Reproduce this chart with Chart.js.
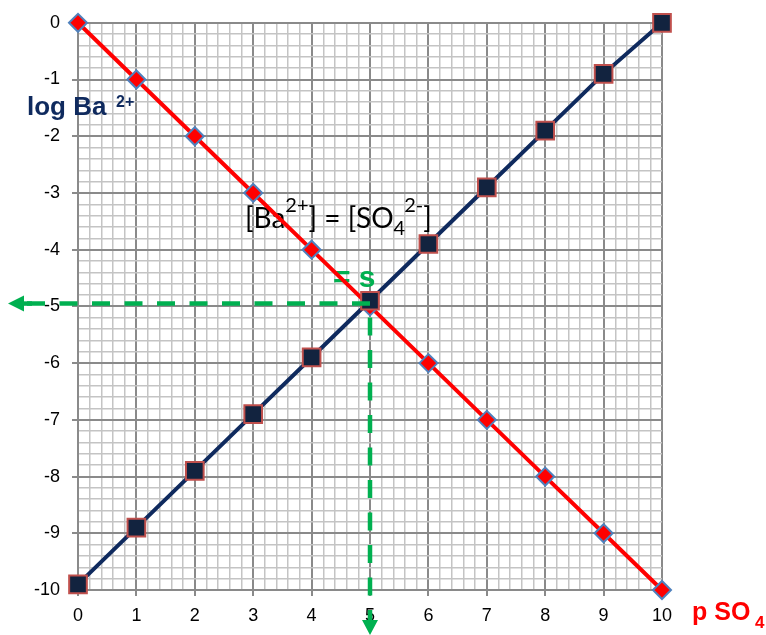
<!DOCTYPE html>
<html>
<head>
<meta charset="utf-8">
<script src="https://cdn.jsdelivr.net/npm/chart.js@4"></script>
<style>
  html, body { margin: 0; padding: 0; background: #fff; }
  #wrap { width: 766px; height: 635px; }
</style>
</head>
<body>
<div id="wrap"><canvas id="c"></canvas></div>
<script>
// values
const pSO4 = [0, 1, 2, 3, 4, 5, 6, 7, 8, 9, 10];
const logSO4 = [0, -1, -2, -3, -4, -5, -6, -7, -8, -9, -10];
const logBa = [-9.9, -8.9, -7.9, -6.9, -5.9, -4.9, -3.9, -2.9, -1.9, -0.9, 0];
const solubility = { x: 5, y: -4.95 };

const GREEN = '#00b050';
const NAVY = '#0f2a5e';

function isMajor(v) { return Math.abs(v - Math.round(v)) < 1e-6; }

// labels and the green "s" guide arrows
const notes = {
  id: 'notes',
  beforeDatasetsDraw(chart) {
    const ctx = chart.ctx;
    ctx.save();
    ctx.fillStyle = '#000';
    ctx.textBaseline = 'alphabetic';
    let x = 245;
    const big = '28px Lato', small = '20px Lato';
    const part = (t, f, y) => { ctx.font = f; ctx.fillText(t, x, y); x += ctx.measureText(t).width; };
    part('[Ba', big, 228);
    part('2+', small, 212);
    part('] = [SO', big, 228);
    part('4', small, 235);
    x -= 1;
    part('2-', small, 212);
    part(']', big, 228);
    // the red line runs over "= s"
    ctx.fillStyle = GREEN;
    ctx.font = 'bold 30px "Liberation Sans"';
    ctx.fillText('= s', 333, 287);
    ctx.restore();
  },
  afterDatasetsDraw(chart) {
    const ctx = chart.ctx;
    const sx = chart.scales.x.getPixelForValue(solubility.x);
    const sy = chart.scales.y.getPixelForValue(solubility.y);
    ctx.save();
    ctx.strokeStyle = GREEN;
    ctx.fillStyle = GREEN;
    ctx.lineWidth = 4.5;
    ctx.setLineDash([18, 14.5]);
    ctx.beginPath();
    ctx.moveTo(27, sy); ctx.lineTo(sx, sy);
    ctx.stroke();
    ctx.beginPath();
    ctx.moveTo(sx, sy + 14); ctx.lineTo(sx, 622);
    ctx.stroke();
    ctx.setLineDash([]);
    ctx.beginPath();
    ctx.moveTo(22, sy); ctx.lineTo(32, sy);
    ctx.stroke();
    // arrow heads
    ctx.beginPath();
    ctx.moveTo(8, sy); ctx.lineTo(24, sy - 8); ctx.lineTo(24, sy + 8); ctx.closePath();
    ctx.fill();
    ctx.beginPath();
    ctx.moveTo(sx, 635); ctx.lineTo(sx - 8, 620); ctx.lineTo(sx + 8, 620); ctx.closePath();
    ctx.fill();
    ctx.restore();
  },
  afterDraw(chart) {
    const ctx = chart.ctx;
    ctx.save();
    ctx.fillStyle = NAVY;
    ctx.font = 'bold 26px "Liberation Sans"';
    ctx.fillText('log Ba', 27, 115);
    ctx.font = 'bold 16px "Liberation Sans"';
    ctx.fillText('2+', 116, 107);
    ctx.fillStyle = '#ff0000';
    ctx.font = 'bold 25px "Liberation Sans"';
    ctx.fillText('p SO', 692, 620);
    ctx.font = 'bold 17px "Liberation Sans"';
    ctx.fillText('4', 755, 628);
    ctx.restore();
  }
};

new Chart(document.getElementById('c'), {
  type: 'scatter',
  data: {
    datasets: [
      {
        label: 'SO4',
        data: pSO4.map((p, i) => ({ x: p, y: logSO4[i] })),
        showLine: true,
        borderColor: '#ff0000',
        borderWidth: 4,
        pointStyle: 'rectRot',
        pointRadius: 9,
        pointHoverRadius: 9,
        pointBackgroundColor: '#ff0000',
        pointBorderColor: '#4f81bd',
        pointBorderWidth: 2,
        clip: false,
        order: 1
      },
      {
        label: 'Ba',
        data: pSO4.map((p, i) => ({ x: p, y: logBa[i] })),
        showLine: true,
        borderColor: NAVY,
        borderWidth: 4,
        pointStyle: 'rect',
        pointRadius: 12.5,
        pointHoverRadius: 12.5,
        pointBackgroundColor: '#12233f',
        pointBorderColor: '#c0504d',
        pointBorderWidth: 2,
        clip: false,
        order: 0
      }
    ]
  },
  options: {
    responsive: true,
    maintainAspectRatio: false,
    animation: false,
    events: [],
    layout: { padding: { top: 19, right: 104, left: 0, bottom: 0 } },
    plugins: { legend: { display: false }, tooltip: { enabled: false } },
    scales: {
      x: {
        type: 'linear',
        min: 0, max: 10,
        afterFit(s) { s.height = 45; },
        border: { color: '#8a8a8a', width: 2 },
        grid: {
          color: c => isMajor(c.tick.value) ? '#8a8a8a' : '#c4c4c4',
          lineWidth: c => isMajor(c.tick.value) ? 2 : 1.5,
          tickColor: c => isMajor(c.tick.value) ? '#8a8a8a' : 'rgba(0,0,0,0)',
          tickLength: 6
        },
        ticks: {
          stepSize: 0.2,
          autoSkip: false,
          maxRotation: 0,
          padding: 9,
          color: '#000',
          font: { family: '"Liberation Sans"', size: 18 },
          callback: v => isMajor(v) ? String(Math.round(v)) : ''
        }
      },
      y: {
        type: 'linear',
        min: -10, max: 0,
        afterFit(s) { s.width = 78; },
        border: { color: '#8a8a8a', width: 2 },
        grid: {
          color: c => isMajor(c.tick.value) ? '#8a8a8a' : '#c4c4c4',
          lineWidth: c => isMajor(c.tick.value) ? 2 : 1.5,
          tickColor: c => isMajor(c.tick.value) ? '#8a8a8a' : 'rgba(0,0,0,0)',
          tickLength: 6
        },
        ticks: {
          stepSize: 0.2,
          autoSkip: false,
          padding: 12,
          color: '#000',
          font: { family: '"Liberation Sans"', size: 18 },
          callback: v => isMajor(v) ? String(Math.round(v)) : ''
        }
      }
    }
  },
  plugins: [notes]
});
</script>
</body>
</html>
